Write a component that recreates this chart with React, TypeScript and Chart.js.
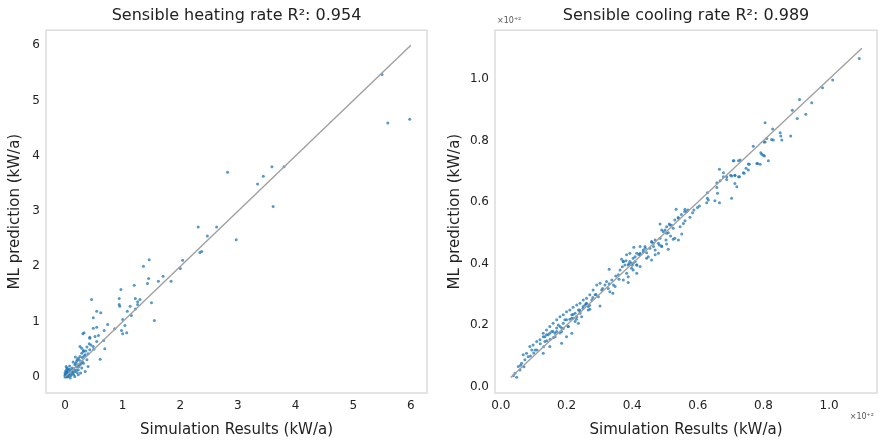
import React, { useEffect, useRef } from "react";
import { Chart, registerables } from "chart.js";

Chart.register(...registerables);

// ---------- Data ----------
const heatTitle = "Sensible heating rate R²: 0.954";
const coolTitle = "Sensible cooling rate R²: 0.989";
const xAxisTitle = "Simulation Results (kW/a)";
const yAxisTitle = "ML prediction (kW/a)";
const multiplierLabel = "×10⁺²";

const heatTicks = [0, 1, 2, 3, 4, 5, 6];
const coolTicks = [0.0, 0.2, 0.4, 0.6, 0.8, 1.0];

const heatLineX = [0, 6];
const heatLineY = [0, 6];
const coolLineX = [0.03, 1.1];
const coolLineY = [0.03, 1.1];

const heatSim = [
  5.50, 5.60, 5.98, 2.82, 3.59, 3.80, 3.44, 3.34, 3.61, 2.31, 2.63, 2.47, 2.97, 2.34, 2.37, 2.04, 2.00,
  1.46, 1.36, 1.45, 1.43, 1.70, 1.62, 1.84, 0.97, 1.20, 1.50, 1.55, 0.94, 0.94, 0.95, 1.22, 1.30, 1.26,
  1.26, 1.13, 1.08, 1.22, 1.15, 1.00, 0.98, 1.00, 1.07, 1.04, 0.46, 0.55, 0.62, 0.49, 0.55, 0.33, 0.31,
  0.74, 0.68, 0.86, 0.58, 0.52, 0.67, 0.69, 0.61, 0.43, 0.38, 0.32,
  0.00, 0.03, 0.06, 0.09, 0.02, 0.12, 0.14, 0.17, 0.20, 0.23, 0.26, 0.29, 0.32, 0.17, 0.23, 0.29, 0.32,
  0.38, 0.26, 0.29, 0.43, 0.49, 0.43, 0.49, 0.55, 0.23, 0.17, 0.09, 0.35, 0.40, 0.01, 0.02, 0.04, 0.03,
  0.05, 0.01, 0.07, 0.10, 0.12, 0.08, 0.15, 0.18, 0.20, 0.22, 0.25, 0.28, 0.30, 0.35, 0.00, 0.02, 0.04,
  0.05, 0.06, 0.03, 0.08, 0.11, 0.13, 0.15, 0.19, 0.21, 0.24, 0.27, 0.30, 0.33, 0.36, 0.40, 0.45, 0.50,
  0.42, 0.21, 0.18, 0.14, 0.26, 0.01, 0.02, 0.00, 0.03, 0.06,
];
const heatPred = [
  5.47, 4.59, 4.66, 3.70, 3.80, 3.80, 3.63, 3.49, 3.08, 2.71, 2.71, 2.55, 2.48, 2.25, 2.27, 2.11, 1.96,
  2.12, 2.00, 1.78, 1.69, 1.82, 1.73, 1.73, 1.58, 1.66, 1.34, 1.02, 1.42, 1.31, 1.28, 1.42, 1.40, 1.36,
  1.31, 1.28, 1.19, 1.23, 1.11, 1.04, 0.84, 0.78, 0.80, 0.93, 1.40, 1.19, 1.16, 1.07, 0.90, 0.80, 0.78,
  0.95, 0.84, 0.87, 0.75, 0.73, 0.66, 0.51, 0.32, 0.72, 0.54, 0.48,
  0.07, 0.13, 0.04, 0.10, 0.19, 0.16, 0.07, 0.22, 0.28, 0.34, 0.37, 0.43, 0.46, 0.10, 0.13, 0.16, 0.25,
  0.31, 0.55, 0.52, 0.70, 0.88, 0.49, 0.55, 0.64, 0.04, 0.01, -0.02, 0.10, 0.19, 0.02, 0.05, 0.01, 0.09,
  0.15, 0.11, 0.06, 0.02, 0.12, 0.20, 0.15, 0.25, 0.18, 0.22, 0.30, 0.25, 0.35, 0.40, 0.00, 0.01, 0.03,
  0.08, 0.12, 0.16, 0.14, 0.05, 0.09, 0.04, 0.12, 0.08, 0.19, 0.07, 0.28, 0.38, 0.47, 0.42, 0.58, 0.50,
  0.60, 0.31, 0.36, 0.27, 0.22, 0.05, 0.08, 0.03, 0.00, 0.01,
];

const coolSim = [
  1.092, 1.011, 0.980, 0.910, 0.947, 0.888, 0.903, 0.929, 0.805, 0.828, 0.851, 0.853, 0.830, 0.856, 0.883,
  0.810, 0.802, 0.769, 0.792, 0.800, 0.815, 0.729, 0.710, 0.757, 0.782, 0.790, 0.747, 0.741, 0.724, 0.713,
  0.703, 0.678, 0.825, 0.805, 0.795, 0.803, 0.724, 0.708, 0.754, 0.780, 0.666, 0.754, 0.739, 0.713, 0.700,
  0.688, 0.678, 0.727, 0.668, 0.658, 0.688, 0.713, 0.719, 0.658, 0.629, 0.660, 0.703, 0.629, 0.632, 0.652,
  0.666, 0.605, 0.599, 0.627, 0.588, 0.584, 0.561, 0.566, 0.534, 0.541, 0.530, 0.576, 0.561, 0.556, 0.515,
  0.505, 0.485, 0.546, 0.490, 0.495, 0.510, 0.551, 0.525, 0.503, 0.470, 0.465, 0.483, 0.490, 0.454, 0.439,
  0.405, 0.434, 0.424, 0.470, 0.393, 0.383, 0.403, 0.409, 0.398, 0.414, 0.373, 0.378, 0.444, 0.459,
  0.513, 0.525, 0.505, 0.517, 0.530, 0.541, 0.485, 0.480, 0.490, 0.459, 0.465, 0.505, 0.510, 0.480, 0.470,
  0.424, 0.434, 0.414, 0.424, 0.409, 0.444, 0.449, 0.368, 0.373, 0.381, 0.393, 0.403, 0.388, 0.414, 0.424,
  0.398, 0.403, 0.414, 0.383, 0.388, 0.330, 0.363, 0.358, 0.373, 0.388, 0.338, 0.343, 0.348, 0.322, 0.317,
  0.327, 0.302, 0.292, 0.307, 0.332, 0.341, 0.281, 0.287, 0.297, 0.302, 0.271, 0.261, 0.277, 0.251, 0.241,
  0.256, 0.266, 0.271, 0.231, 0.220, 0.236, 0.210, 0.200, 0.216, 0.241, 0.246, 0.190, 0.180, 0.195, 0.220,
  0.226, 0.170, 0.159, 0.175, 0.149, 0.139, 0.155, 0.165, 0.129, 0.134, 0.144, 0.205, 0.185,
  0.261, 0.251, 0.266, 0.241, 0.226, 0.231, 0.216, 0.236, 0.200, 0.190, 0.205, 0.180, 0.170, 0.185, 0.159,
  0.149, 0.165, 0.139, 0.129, 0.119, 0.134, 0.109, 0.098, 0.088, 0.104, 0.094, 0.078, 0.068, 0.083, 0.073,
  0.063, 0.053, 0.058, 0.043, 0.038, 0.048, 0.200, 0.216, 0.149, 0.129, 0.185,
  0.060, 0.070, 0.090, 0.100, 0.110, 0.120, 0.130, 0.140, 0.150, 0.160, 0.170, 0.180, 0.190, 0.210, 0.220,
  0.230, 0.240, 0.250, 0.260, 0.270, 0.280, 0.290, 0.310, 0.330, 0.350, 0.360, 0.370, 0.390, 0.400, 0.420,
  0.440, 0.460, 0.500, 0.520, 0.550, 0.570, 0.560, 0.540,
];
const coolPred = [
  1.067, 0.997, 0.972, 0.934, 0.923, 0.899, 0.872, 0.886, 0.858, 0.838, 0.826, 0.815, 0.802, 0.802, 0.815,
  0.807, 0.796, 0.782, 0.761, 0.753, 0.735, 0.737, 0.735, 0.723, 0.726, 0.723, 0.710, 0.694, 0.683, 0.687,
  0.685, 0.696, 0.804, 0.796, 0.756, 0.750, 0.735, 0.735, 0.724, 0.726, 0.707, 0.705, 0.696, 0.688, 0.688,
  0.683, 0.683, 0.683, 0.670, 0.663, 0.674, 0.661, 0.650, 0.648, 0.631, 0.629, 0.613, 0.613, 0.607, 0.605,
  0.598, 0.588, 0.583, 0.598, 0.575, 0.566, 0.577, 0.569, 0.577, 0.548, 0.542, 0.551, 0.540, 0.531, 0.526,
  0.520, 0.529, 0.520, 0.510, 0.504, 0.501, 0.497, 0.480, 0.477, 0.477, 0.467, 0.461, 0.456, 0.450, 0.456,
  0.454, 0.439, 0.434, 0.445, 0.434, 0.429, 0.418, 0.407, 0.402, 0.396, 0.407, 0.396, 0.418, 0.412,
  0.529, 0.515, 0.499, 0.490, 0.483, 0.477, 0.483, 0.467, 0.458, 0.472, 0.456, 0.464, 0.447, 0.434, 0.429,
  0.456, 0.445, 0.434, 0.429, 0.423, 0.436, 0.423, 0.415, 0.407, 0.410, 0.407, 0.402, 0.396, 0.396, 0.391,
  0.385, 0.380, 0.369, 0.369, 0.358, 0.382, 0.380, 0.364, 0.347, 0.339, 0.347, 0.331, 0.326, 0.342, 0.331,
  0.320, 0.337, 0.331, 0.315, 0.309, 0.304, 0.315, 0.299, 0.293, 0.263, 0.299, 0.288, 0.282, 0.282, 0.272,
  0.266, 0.261, 0.252, 0.266, 0.259, 0.250, 0.250, 0.244, 0.234, 0.239, 0.228, 0.234, 0.228, 0.218, 0.223,
  0.212, 0.218, 0.207, 0.201, 0.196, 0.185, 0.180, 0.174, 0.174, 0.163, 0.169, 0.196, 0.191,
  0.272, 0.261, 0.250, 0.244, 0.239, 0.228, 0.223, 0.207, 0.218, 0.207, 0.196, 0.196, 0.191, 0.180, 0.180,
  0.174, 0.163, 0.169, 0.163, 0.153, 0.147, 0.147, 0.136, 0.131, 0.120, 0.120, 0.109, 0.104, 0.098, 0.088,
  0.077, 0.066, 0.055, 0.044, 0.036, 0.031, 0.163, 0.174, 0.131, 0.109, 0.142,
  0.070, 0.065, 0.100, 0.110, 0.120, 0.140, 0.130, 0.150, 0.155, 0.160, 0.180, 0.175, 0.190, 0.220, 0.235,
  0.220, 0.250, 0.255, 0.270, 0.265, 0.290, 0.300, 0.320, 0.335, 0.360, 0.350, 0.390, 0.400, 0.395, 0.430,
  0.450, 0.470, 0.510, 0.525, 0.560, 0.575, 0.570, 0.550,
];

// ---------- Styling ----------
const FONT = "'DejaVu Sans', sans-serif";
const TEXT = "#222222";

const framePlugin = {
  id: "frame",
  beforeDatasetsDraw(chart: any) {
    const { ctx, chartArea: a } = chart;
    ctx.save();
    ctx.strokeStyle = "#dcdcdc";
    ctx.lineWidth = 1.5;
    ctx.strokeRect(a.left, a.top, a.right - a.left, a.bottom - a.top);
    ctx.restore();
  },
  afterDraw(chart: any, _args: any, opts: any) {
    if (!opts || !opts.multiplier) return;
    const { ctx, chartArea: a } = chart;
    ctx.save();
    ctx.fillStyle = "#555";
    ctx.font = `8px ${FONT}`;
    ctx.textBaseline = "middle";
    ctx.textAlign = "left";
    ctx.fillText(opts.multiplier, a.left + 2, 21);
    ctx.textAlign = "right";
    ctx.fillText(opts.multiplier, a.right - 3, a.bottom + 24);
    ctx.restore();
  },
};

interface PanelProps {
  title: string;
  xs: number[];
  ys: number[];
  lineX: number[];
  lineY: number[];
  ticks: number[];
  decimals: number;
  xMin: number;
  xMax: number;
  yMin: number;
  yMax: number;
  yAxisWidth: number;
  padRight: number;
  width: number;
  multiplier?: string;
}

function Panel(p: PanelProps) {
  const ref = useRef<HTMLCanvasElement>(null);
  useEffect(() => {
    if (!ref.current) return;
    const tickSetter = (axis: any) => {
      axis.ticks = p.ticks.map((v) => ({ value: v }));
    };
    const tickFmt = (v: any) => Number(v).toFixed(p.decimals);
    const chart = new Chart(ref.current, {
      type: "scatter",
      data: {
        datasets: [
          {
            type: "line",
            data: p.lineX.map((x, i) => ({ x, y: p.lineY[i] })),
            borderColor: "#a0a0a0",
            borderWidth: 1.4,
            pointRadius: 0,
            order: 0,
          } as any,
          {
            data: p.xs.map((x, i) => ({ x, y: p.ys[i] })),
            pointRadius: 1.5,
            backgroundColor: "rgba(31,119,180,0.75)",
            borderWidth: 0,
            order: 1,
          },
        ],
      },
      plugins: [framePlugin as any],
      options: {
        animation: false,
        responsive: false,
        maintainAspectRatio: false,
        layout: { padding: { left: 0, right: p.padRight, top: 0, bottom: 0 } },
        plugins: {
          legend: { display: false },
          tooltip: { enabled: false },
          title: {
            display: true,
            fullSize: false,
            text: p.title,
            color: TEXT,
            font: { family: FONT, size: 16, weight: "normal" },
            padding: { top: 6, bottom: 5 },
          },
          frame: { multiplier: p.multiplier },
        } as any,
        scales: {
          x: {
            type: "linear",
            min: p.xMin,
            max: p.xMax,
            afterBuildTicks: tickSetter,
            afterFit: (s: any) => {
              s.height = 47;
            },
            grid: { display: false, drawTicks: false },
            border: { display: false },
            ticks: {
              color: TEXT,
              font: { family: FONT, size: 12 },
              padding: 6,
              callback: tickFmt,
              maxRotation: 0,
            },
            title: {
              display: true,
              text: xAxisTitle,
              color: TEXT,
              font: { family: FONT, size: 15 },
              padding: { top: 0, bottom: 1 },
            },
          },
          y: {
            type: "linear",
            min: p.yMin,
            max: p.yMax,
            afterBuildTicks: tickSetter,
            afterFit: (s: any) => {
              s.width = p.yAxisWidth;
            },
            grid: { display: false, drawTicks: false },
            border: { display: false },
            ticks: {
              color: TEXT,
              font: { family: FONT, size: 12 },
              padding: 6,
              callback: tickFmt,
            },
            title: {
              display: true,
              text: yAxisTitle,
              color: TEXT,
              font: { family: FONT, size: 15 },
              padding: { top: 6, bottom: 0 },
            },
          },
        },
      },
    });
    return () => chart.destroy();
  }, []);
  return <canvas ref={ref} width={p.width} height={440} style={{ display: "block", width: p.width, height: 440 }} />;
}

export default function App() {
  useEffect(() => {
    document.body.style.margin = "0";
  }, []);
  return (
    <div style={{ display: "flex", width: 881, height: 440, background: "#fff" }}>
      <Panel
        title={heatTitle}
        xs={heatSim}
        ys={heatPred}
        lineX={heatLineX}
        lineY={heatLineY}
        ticks={heatTicks}
        decimals={0}
        xMin={-0.33}
        xMax={6.28}
        yMin={-0.29}
        yMax={6.27}
        yAxisWidth={46}
        padRight={13}
        width={440}
      />
      <Panel
        title={coolTitle}
        xs={coolSim}
        ys={coolPred}
        lineX={coolLineX}
        lineY={coolLineY}
        ticks={coolTicks}
        decimals={1}
        xMin={-0.018}
        xMax={1.146}
        yMin={-0.02}
        yMax={1.159}
        yAxisWidth={55}
        padRight={4}
        width={441}
        multiplier={multiplierLabel}
      />
    </div>
  );
}
